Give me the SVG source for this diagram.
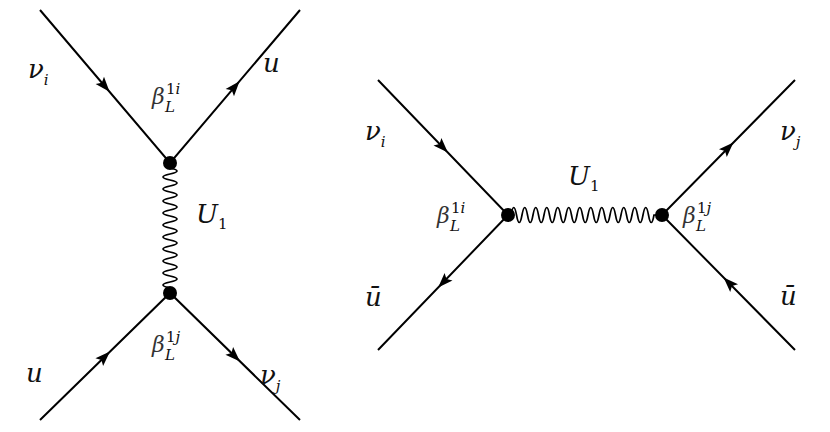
<svg xmlns="http://www.w3.org/2000/svg" width="830" height="432" viewBox="0 0 830 432">
<style>
.l{stroke:#000;stroke-width:2;fill:none}
.w{stroke:#000;stroke-width:1.7;fill:none}
text{font-family:"DejaVu Serif","Liberation Serif",serif;font-style:italic;fill:#111}
.t{font-size:26px}
.b{font-size:22px;fill:#333}
.s{font-size:15px}
.n{font-style:normal}
</style>
<defs>
<path id="ar" d="M7 0 L-8 -5.5 L-5 0 L-8 5.5 Z" fill="#000"/>
</defs>
<rect width="830" height="432" fill="#fff"/>
<g id="connectors">
<path class="l" d="M40 10 L170 163 L300 10"/>
<path class="l" d="M40 420 L170 293 L300 420"/>
<path class="w" d="M170 168 q14 3 0 6 t0 6 t0 6 t0 6 t0 6 t0 6 t0 6 t0 6 t0 6 t0 6 t0 6 t0 6 t0 6 t0 6 t0 6 t0 6 t0 6 t0 6 t0 6 t0 6"/>
<path class="l" d="M378 80 L508 215 L378 350"/>
<path class="l" d="M795 80 L662 215 L795 350"/>
<path class="w" d="M511 215 q2.75 -15 5.5 0 t5.5 0 t5.5 0 t5.5 0 t5.5 0 t5.5 0 t5.5 0 t5.5 0 t5.5 0 t5.5 0 t5.5 0 t5.5 0 t5.5 0 t5.5 0 t5.5 0 t5.5 0 t5.5 0 t5.5 0 t5.5 0 t5.5 0 t5.5 0 t5.5 0 t5.5 0 t5.5 0 t5.5 0 t5.5 0 L659 215"/>
<use href="#ar" transform="translate(105 86.5) rotate(49.6)"/>
<use href="#ar" transform="translate(235 86.5) rotate(-49.6)"/>
<use href="#ar" transform="translate(105 356.5) rotate(-44.3)"/>
<use href="#ar" transform="translate(235 356.5) rotate(44.3)"/>
<use href="#ar" transform="translate(443 147.5) rotate(46.1)"/>
<use href="#ar" transform="translate(443 282.5) rotate(133.9)"/>
<use href="#ar" transform="translate(728.5 147.5) rotate(-45.4)"/>
<use href="#ar" transform="translate(728.5 282.5) rotate(-134.6)"/>
</g>
<g id="v1"><circle cx="170" cy="163" r="7"/></g>
<g id="v2"><circle cx="170" cy="293" r="7"/></g>
<g id="v3"><circle cx="508" cy="215" r="7"/></g>
<g id="v4"><circle cx="662" cy="215" r="7"/></g>
<g id="labels">
<text class="t" x="28" y="78">ν<tspan class="s" dy="7">i</tspan></text>
<text class="t" x="263" y="72">u</text>
<text class="b" x="152" y="104">β</text><text class="s" x="166" y="94"><tspan class="n">1</tspan>i</text><text class="s" x="165" y="112">L</text>
<text class="t" x="196" y="223">U<tspan class="s n" dy="6">1</tspan></text>
<text class="b" x="152" y="352">β</text><text class="s" x="166" y="342"><tspan class="n">1</tspan>j</text><text class="s" x="165" y="360">L</text>
<text class="t" x="26" y="382">u</text>
<text class="t" x="260" y="384">ν<tspan class="s" dy="7">j</tspan></text>
<text class="t" x="365" y="140">ν<tspan class="s" dy="7">i</tspan></text>
<text class="t" x="365" y="306">ū</text>
<text class="t" x="568" y="185">U<tspan class="s n" dy="6">1</tspan></text>
<text class="b" x="437" y="223">β</text><text class="s" x="451" y="213"><tspan class="n">1</tspan>i</text><text class="s" x="450" y="231">L</text>
<text class="b" x="683" y="223">β</text><text class="s" x="697" y="213"><tspan class="n">1</tspan>j</text><text class="s" x="696" y="231">L</text>
<text class="t" x="780" y="140">ν<tspan class="s" dy="7">j</tspan></text>
<text class="t" x="780" y="305">ū</text>
</g>
</svg>
